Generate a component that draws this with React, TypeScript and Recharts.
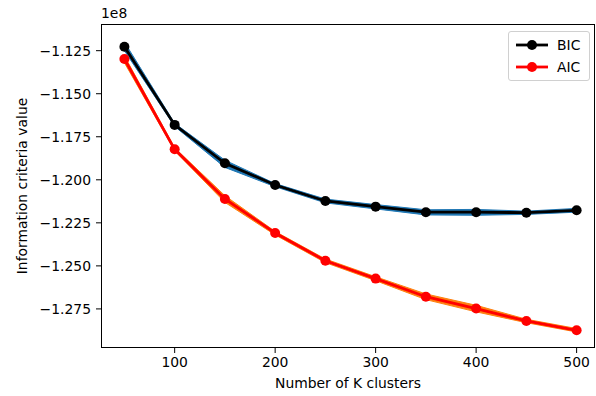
import React from 'react';
import { ComposedChart, Line, Area, XAxis, YAxis } from 'recharts';

// values in units of 1e8
const ks = [50, 100, 150, 200, 250, 300, 350, 400, 450, 500];
const bic = [-1.1227, -1.1681, -1.1904, -1.203, -1.2123, -1.2156, -1.2188, -1.2188, -1.2191, -1.2177];
const bicHigh = [-1.1200, -1.1672, -1.1886, -1.2022, -1.2112, -1.2144, -1.2174, -1.2172, -1.2182, -1.2166];
const bicLow = [-1.1250, -1.1690, -1.1928, -1.2040, -1.2134, -1.2169, -1.2204, -1.2206, -1.2201, -1.2188];
const aic = [-1.1298, -1.1823, -1.2111, -1.2309, -1.247, -1.2574, -1.2679, -1.2748, -1.282, -1.2874];
const aicHigh = [-1.1280, -1.1814, -1.2092, -1.2300, -1.2460, -1.2563, -1.2663, -1.2729, -1.2810, -1.2864];
const aicLow = [-1.1320, -1.1832, -1.2131, -1.2320, -1.2481, -1.2586, -1.2696, -1.2767, -1.2830, -1.2884];
const xTicks = [100, 200, 300, 400, 500];
const yTicks = [-1.275, -1.25, -1.225, -1.2, -1.175, -1.15, -1.125];

const data = ks.map((k, i) => ({
  k,
  bic: bic[i],
  aic: aic[i],
  bicBand: [bicLow[i], bicHigh[i]],
  aicBand: [aicLow[i], aicHigh[i]],
}));

const font = 'DejaVu Sans, sans-serif';
const fs = 13.9;

const LegendBox = () => (
  <div style={{
    position: 'absolute', top: 31, left: 508, width: 82, boxSizing: 'border-box',
    border: '1px solid #d0d0d0', borderRadius: 3, background: 'rgba(255,255,255,0.8)',
    padding: '2px 0 2px 6px', fontFamily: font, fontSize: fs, lineHeight: '22px',
  }}>
    {[['BIC', '#000000'], ['AIC', '#ff0000']].map(([name, color]) => (
      <div key={name} style={{ display: 'flex', alignItems: 'center' }}>
        <svg width={34} height={22}>
          <line x1={1} y1={11} x2={33} y2={11} stroke={color} strokeWidth={2.8} />
          <circle cx={17} cy={11} r={5} fill={color} />
        </svg>
        <span style={{ marginLeft: 8 }}>{name}</span>
      </div>
    ))}
  </div>
);

export default function App() {
  return (
    <div style={{ position: 'absolute', left: 0, top: 0, width: 596, height: 396, background: '#fff' }}>
      <ComposedChart width={596} height={396} data={data}
        margin={{ top: 24, right: 1, bottom: 18, left: 41 }}>
        <XAxis dataKey="k" type="number" domain={[26.7, 518.3]} ticks={xTicks} allowDataOverflow
          axisLine={false} tickLine={{ stroke: '#000' }} tickSize={5} tickMargin={4} height={30}
          tick={{ fill: '#000', fontFamily: font, fontSize: fs }} />
        <YAxis type="number" domain={[-1.2977, -1.1095]} ticks={yTicks} allowDataOverflow
          axisLine={false} tickLine={{ stroke: '#000' }} tickSize={5} tickMargin={5} width={60}
          tickFormatter={(v: number) => v.toFixed(3).replace('-', '\u2212')}
          tick={{ fill: '#000', fontFamily: font, fontSize: fs }} />
        <Area type="linear" dataKey="bicBand" fill="#1f77b4" fillOpacity={1} stroke="#1f77b4" strokeWidth={1}
          isAnimationActive={false} legendType="none" activeDot={false} />
        <Line type="linear" dataKey="bic" name="BIC" stroke="#000000" strokeWidth={2.8}
          dot={{ r: 5, fill: '#000000', stroke: '#000000', strokeWidth: 0 }} isAnimationActive={false} />
        <Area type="linear" dataKey="aicBand" fill="#ff7f0e" fillOpacity={1} stroke="#ff7f0e" strokeWidth={1}
          isAnimationActive={false} legendType="none" activeDot={false} />
        <Line type="linear" dataKey="aic" name="AIC" stroke="#ff0000" strokeWidth={2.8}
          dot={{ r: 5, fill: '#ff0000', stroke: '#ff0000', strokeWidth: 0 }} isAnimationActive={false} />
      </ComposedChart>
      <LegendBox />
      <div style={{ position: 'absolute', left: 101, top: 24, width: 494, height: 324, border: '1px solid #000',
        boxSizing: 'border-box', pointerEvents: 'none' }} />
      <div style={{ position: 'absolute', left: 101, top: 5, fontFamily: font, fontSize: fs }}>1e8</div>
      <div style={{ position: 'absolute', left: 0, width: 696, top: 375, textAlign: 'center', fontFamily: font, fontSize: fs }}>
        Number of K clusters
      </div>
      <div style={{ position: 'absolute', left: 22, top: 186, fontFamily: font, fontSize: fs, whiteSpace: 'nowrap',
        transform: 'translate(-50%, -50%) rotate(-90deg)' }}>
        Information criteria value
      </div>
    </div>
  );
}
